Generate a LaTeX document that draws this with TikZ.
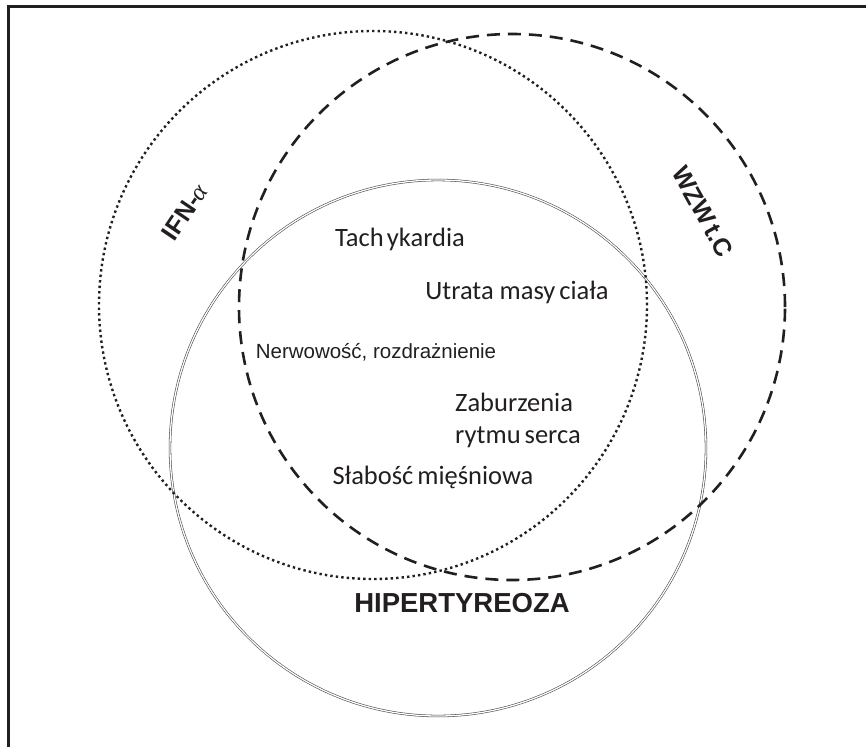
\documentclass[tikz,border=0pt]{standalone}
\usepackage{fontspec}
\setmainfont{Liberation Sans}
\newfontfamily\calib{Carlito}
\newfontfamily\arialf{Liberation Sans}
\newfontfamily\serifgr{Liberation Serif}
\definecolor{ink}{HTML}{231F20}
\begin{document}
\begin{tikzpicture}[x=1pt,y=-1pt,
  frameline/.style={draw=ink,line width=3pt},
  hyper/.style={draw=ink!85,line width=0.55pt,double=white,double distance=1.3pt},
  ifn/.style={draw=ink,line width=2.4pt,dash pattern=on 2.4pt off 3.1pt},
  wzw/.style={draw=ink,line width=2.6pt,dash pattern=on 13pt off 8pt},
  cal/.style={font=\calib\fontsize{26.5}{32}\selectfont,text=ink,inner sep=0pt},
  ari/.style={font=\arialf\fontsize{20.5}{24}\selectfont,text=ink,inner sep=0pt},
  bold/.style={font=\arialf\bfseries\fontsize{25}{30}\selectfont,text=ink,inner sep=0pt}]
\useasboundingbox (0,0) rectangle (866,747);
\fill[white] (0,0) rectangle (866,747);
% frame (only top and left visible)
\coordinate (fbl) at (8.5,747);
\coordinate (ftl) at (8.5,6.5);
\coordinate (ftr) at (866,6.5);
\draw[frameline] (fbl) -- (ftl) -- (ftr);
% circles
\coordinate (chyp) at (438,448);
\coordinate (cifn) at (373,305);
\coordinate (cwzw) at (512,307);
\draw[hyper] (chyp) circle[radius=268pt];
\draw[ifn] (cifn) circle[radius=274pt];
\draw[wzw] (cwzw) circle[radius=273pt];
% labels
\node[bold,rotate=56] (lifn) at (185,212) {IFN-{\serifgr\itshape\mdseries α}};
\node[bold,rotate=-61] (lwzw) at (703,212) {WZW\hspace{0.15em}t.C};
\node[font=\arialf\bfseries\fontsize{27.5}{32}\selectfont,text=ink,inner sep=0pt] (lhyp) at (462,603) {HIPERTYREOZA};
\node[cal] (tach) at (400,239) {Tach\hspace{0.12em}ykardia};
\node[cal] (utr) at (517,292) {Utrata masy\hspace{0.15em}ciała};
\node[ari] (nerw) at (376,352) {Nerwowość, rozdrażnienie};
\node[cal,align=left,anchor=west] (zab) at (455,420) {Zaburzenia\\rytmu\hspace{0.15em}serca};
\node[cal] (slab) at (433,477) {Słabość\hspace{0.15em}mięśniowa};
\end{tikzpicture}
\end{document}
